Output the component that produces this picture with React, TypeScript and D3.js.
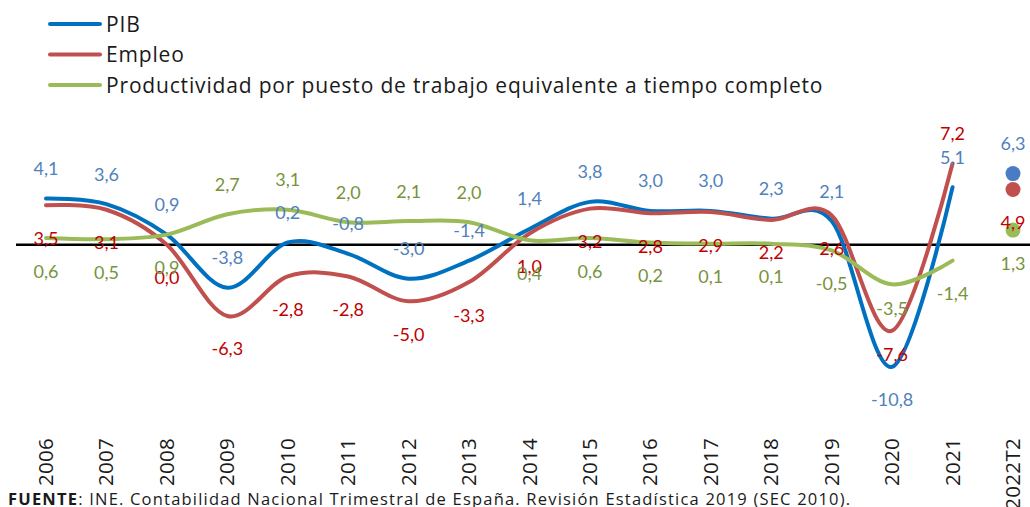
import React from 'react';
import * as d3 from 'd3';

// Categories and series (tasas de variación anual, %)
const years = ['2006', '2007', '2008', '2009', '2010', '2011', '2012', '2013', '2014', '2015', '2016', '2017', '2018', '2019', '2020', '2021'];
const lastPeriod = '2022T2';

const pib = [4.1, 3.6, 0.9, -3.8, 0.2, -0.8, -3.0, -1.4, 1.4, 3.8, 3.0, 3.0, 2.3, 2.1, -10.8, 5.1];
const empleo = [3.5, 3.1, 0.0, -6.3, -2.8, -2.8, -5.0, -3.3, 1.0, 3.2, 2.8, 2.9, 2.2, 2.6, -7.6, 7.2];
const productividad = [0.6, 0.5, 0.9, 2.7, 3.1, 2.0, 2.1, 2.0, 0.4, 0.6, 0.2, 0.1, 0.1, -0.5, -3.5, -1.4];

// 2022T2 values shown as single points
const pib2022 = 6.3;
const empleo2022 = 4.9;
const productividad2022 = 1.3;

// where Excel put each data label: a = above, b = below, c = just below
const pibLabelPos = ['a', 'a', 'a', 'a', 'a', 'a', 'a', 'a', 'a', 'a', 'a', 'a', 'a', 'a', 'b', 'a', 'a'];
const empleoLabelPos = ['b', 'b', 'b', 'b', 'b', 'b', 'b', 'b', 'b', 'b', 'b', 'b', 'b', 'b', 'c', 'a', 'b'];
const prodLabelPos = ['b', 'b', 'b', 'a', 'a', 'a', 'a', 'a', 'b', 'b', 'b', 'b', 'b', 'b', 'c', 'b', 'b'];

const legendLabels = ['PIB', 'Empleo', 'Productividad por puesto de trabajo equivalente a tiempo completo'];

const W = 1030;
const H = 507;

const locale = d3.formatLocale({ decimal: ',', thousands: '.', grouping: [3], currency: ['', '€'], minus: '-' });
const fmt = locale.format('.1f');

const labelOffset: Record<string, number> = { a: -30, b: 33, c: 24 };

export default function App() {
  const cats = [...years, lastPeriod];
  const x = d3.scalePoint<string>().domain(cats).range([46, 1013]);
  const y = d3.scaleLinear().domain([-12, 8]).range([380.4, 154.4]);

  const line = d3.line<number>()
    .x((_, i) => x(years[i]) as number)
    .y(d => y(d))
    .curve(d3.curveCatmullRom.alpha(0));

  const series = [
    { name: legendLabels[0], values: pib, last: pib2022, pos: pibLabelPos, line: '#0070C0', dot: '#4A7CC4', label: '#4F81BD' },
    { name: legendLabels[1], values: empleo, last: empleo2022, pos: empleoLabelPos, line: '#C0504D', dot: '#C0504D', label: '#C00000' },
    { name: legendLabels[2], values: productividad, last: productividad2022, pos: prodLabelPos, line: '#9BBB59', dot: '#9BBB59', label: '#77933C' },
  ];

  return (
    <svg width={W} height={H} style={{ position: 'absolute', left: 0, top: 0, background: '#fff' }}>
      {/* legend */}
      {series.map((s, i) => (
        <g key={s.name} transform={`translate(0,${24 + i * 30.5})`}>
          <line x1={50} x2={100} y1={0} y2={0} stroke={s.line} strokeWidth={4} strokeLinecap="round" />
          <text x={106} y={0} dy="0.36em" fontFamily="'Open Sans', sans-serif" fontSize={21} letterSpacing={0.83} fill="#1a1a1a">{s.name}</text>
        </g>
      ))}

      {/* zero line */}
      <line x1={16} x2={W} y1={y(0)} y2={y(0)} stroke="#000" strokeWidth={2.5} />

      {/* lines */}
      {series.map(s => (
        <path key={s.name} d={line(s.values) || ''} fill="none" stroke={s.line} strokeWidth={4} strokeLinecap="round" />
      ))}

      {/* 2022T2 points */}
      {series.map(s => (
        <circle key={s.name} cx={x(lastPeriod)} cy={y(s.last)} r={7.5} fill={s.dot} />
      ))}

      {/* data labels */}
      {series.map(s => (
        <g key={s.name} fontFamily="Lato, sans-serif" fontSize={18} fill={s.label} textAnchor="middle">
          {[...s.values, s.last].map((v, i) => (
            <text key={i} x={x(cats[i])} y={y(v) + labelOffset[s.pos[i]]} dy="0.36em">{fmt(v)}</text>
          ))}
        </g>
      ))}

      {/* category labels */}
      {cats.map(c => (
        <text key={c} transform={`translate(${(x(c) as number) + 7},438) rotate(-90)`} textAnchor="end"
          fontFamily="'Open Sans', sans-serif" fontSize={20.5} letterSpacing={0.3} fill="#1a1a1a">{c}</text>
      ))}

      {/* source */}
      <text x={8} y={505} fontFamily="'Open Sans', sans-serif" fontSize={16.5} letterSpacing={1.2} fill="#1a1a1a">
        <tspan fontWeight="bold">FUENTE</tspan>: INE. Contabilidad Nacional Trimestral de España. Revisión Estadística 2019 (SEC 2010).
      </text>
    </svg>
  );
}
